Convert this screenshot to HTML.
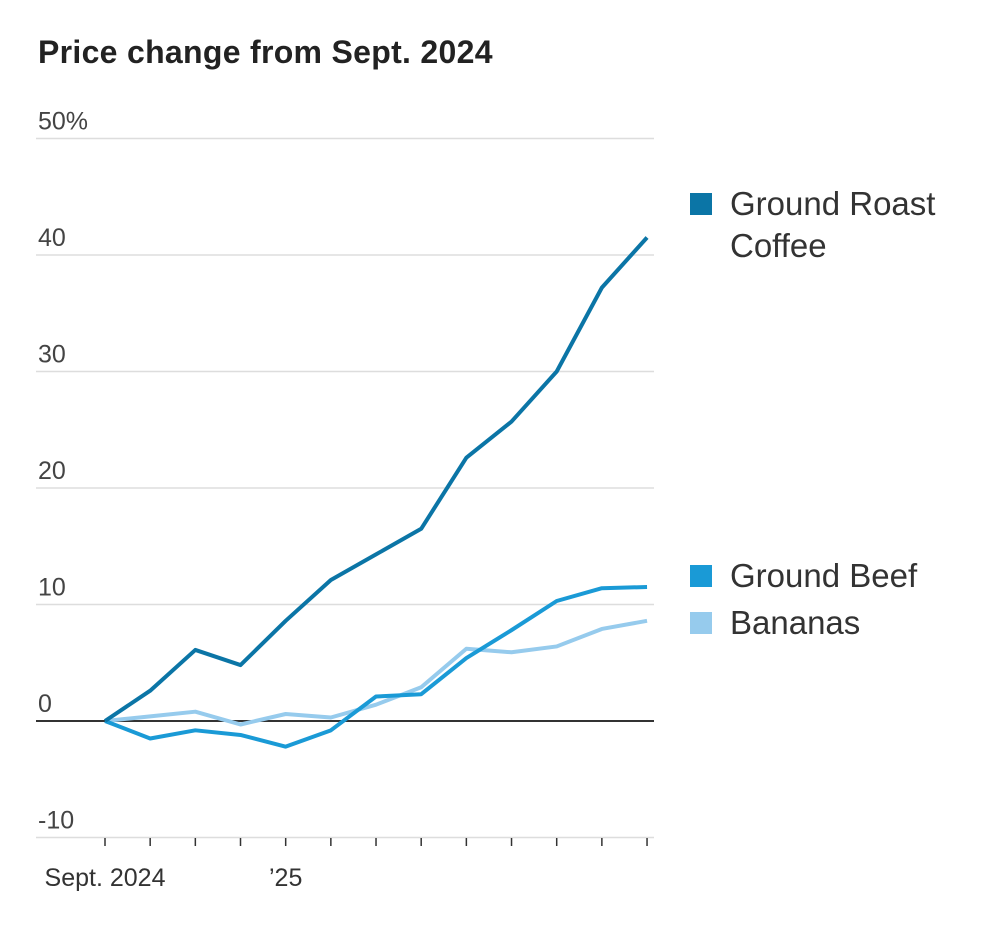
<!DOCTYPE html>
<html><head><meta charset="utf-8"><style>
body{margin:0;background:#fff;font-family:"Liberation Sans",sans-serif;}
</style></head><body>
<svg width="1000" height="928" viewBox="0 0 1000 928">
<text x="38" y="63" font-size="32" font-weight="bold" fill="#222" letter-spacing="0.3">Price change from Sept. 2024</text>
<g id="grid"></g><g id="lines"></g><g id="legend"></g>
</svg>
<script>
const yTicks=[50,40,30,20,10,0,-10];
const yTickLabels=["50%","40","30","20","10","0","-10"];
const months=13;
const coffee=[0,2.6,6.1,4.8,8.6,12.1,14.3,16.5,22.6,25.7,30.0,37.2,41.5];
const beef=[0,-1.5,-0.8,-1.2,-2.2,-0.8,2.1,2.3,5.4,7.8,10.3,11.4,11.5];
const bananas=[0,0.4,0.8,-0.3,0.6,0.3,1.4,2.9,6.2,5.9,6.4,7.9,8.6];
const xLabels=[[0,"Sept. 2024"],[4,"’25"]];
const NS="http://www.w3.org/2000/svg";
const y=v=>721-v*11.65;
const x=i=>105+i*45.17;
function mk(t,a,p){const e=document.createElementNS(NS,t);for(const k in a)e.setAttribute(k,a[k]);p.appendChild(e);return e;}
const g=document.getElementById('grid');
yTicks.forEach((v,i)=>{
 const l=mk('line',{x1:36,x2:654,y1:y(v),y2:y(v),stroke:v===0?'#333':'#ddd','stroke-width':v===0?2:1.5},g);
 
 
 const t=mk('text',{x:38,y:y(v)-9,'font-size':25,fill:'#444'},g);t.textContent=yTickLabels[i];
 
 
});
for(let i=0;i<months;i++){
 const l=mk('line',{x1:x(i),x2:x(i),y1:838,y2:846,stroke:'#333','stroke-width':1.5},g);
 
 
}
xLabels.forEach(([i,s])=>{
 const t=mk('text',{x:x(i),y:886,'font-size':25,fill:'#333','text-anchor':'middle'},g);t.textContent=s;
 
 
});
const L=document.getElementById('lines');
[[bananas,'#96cbed','bananas-line'],[beef,'#1a9ad6','ground-beef-line'],[coffee,'#0b75a6','coffee-line']].forEach(([d,c,n])=>{
 const p=mk('polyline',{points:d.map((v,i)=>x(i)+','+y(v)).join(' '),fill:'none',stroke:c,'stroke-width':4,'stroke-linejoin':'round'},L);
 
 
});
const lg=document.getElementById('legend');
[[['Ground Roast','Coffee'],'#0b75a6',204],[['Ground Beef'],'#1a9ad6',576],[['Bananas'],'#96cbed',623]].forEach(([ls,c,yy])=>{
 const r=mk('rect',{x:690,y:yy-11,width:22,height:22,fill:c},lg);
 
 
 ls.forEach((s,j)=>{const t=mk('text',{x:730,y:yy+11+j*42,'font-size':33,fill:'#333'},lg);t.textContent=s;
 
 });
});
</script>
</body></html>
